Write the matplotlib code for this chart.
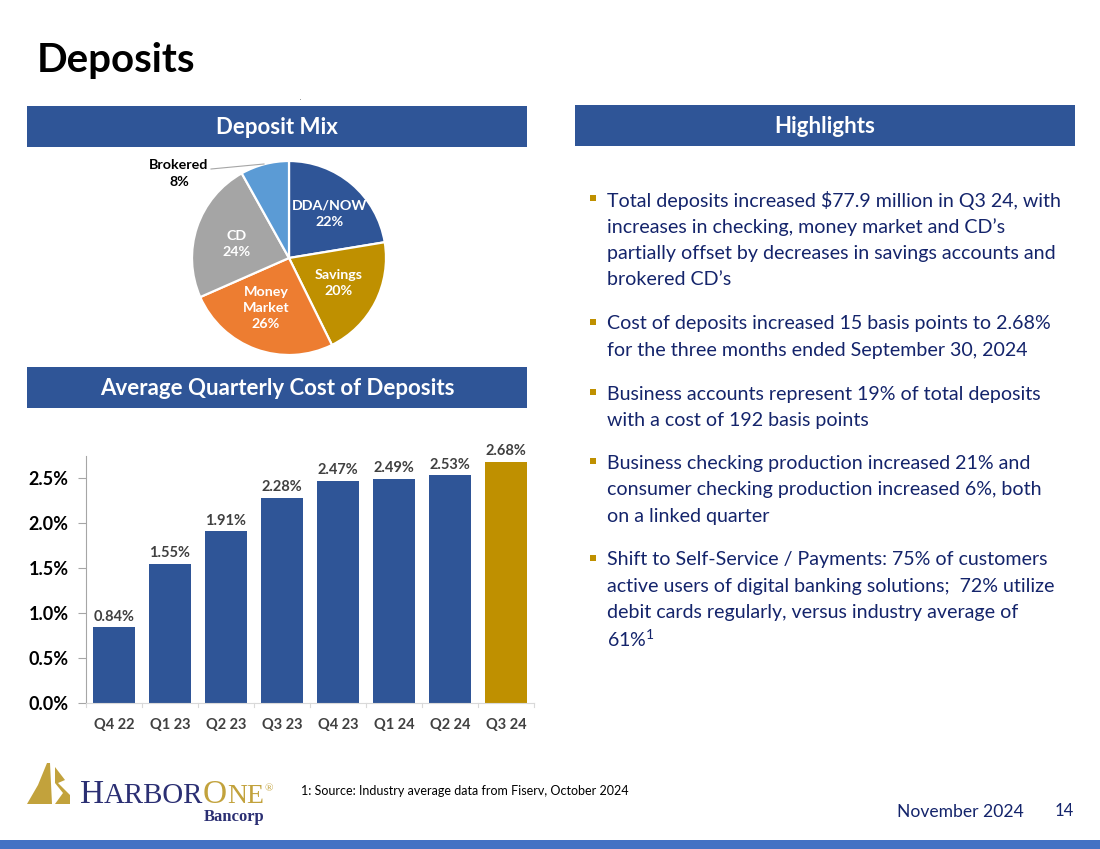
import matplotlib
matplotlib.use("Agg")
import matplotlib.pyplot as plt
from matplotlib.patches import Rectangle, Polygon

plt.rcParams['font.family'] = ['Lato', 'DejaVu Sans']
plt.rcParams['mathtext.fontset'] = 'custom'
plt.rcParams['mathtext.rm'] = 'Lato'
plt.rcParams['mathtext.default'] = 'rm'

mix_labels = ["DDA/NOW\n22%", "Savings\n20%", "Money\nMarket\n26%", "CD\n24%", "Brokered\n8%"]
mix_values = [22.4, 20.3, 25.7, 23.5, 8.1]
mix_colors = ["#2F5597", "#BF9000", "#ED7D31", "#A5A5A5", "#5B9BD5"]

quarters = ["Q4 22", "Q1 23", "Q2 23", "Q3 23", "Q4 23", "Q1 24", "Q2 24", "Q3 24"]
cost = [0.84, 1.55, 1.91, 2.28, 2.47, 2.49, 2.53, 2.68]
y_ticks = [0.0, 0.5, 1.0, 1.5, 2.0, 2.5]

highlights = [
    (["Total deposits increased $77.9 million in Q3 24, with",
      "increases in checking, money market and CD\u2019s",
      "partially offset by decreases in savings accounts and",
      "brokered CD\u2019s"], 200),
    (["Cost of deposits increased 15 basis points to 2.68%",
      "for the three months ended September 30, 2024"], 323.5),
    (["Business accounts represent 19% of total deposits",
      "with a cost of 192 basis points"], 394),
    (["Business checking production increased 21% and",
      "consumer checking production increased 6%, both",
      "on a linked quarter"], 463),
    (["Shift to Self-Service / Payments: 75% of customers",
      "active users of digital banking solutions;  72% utilize",
      "debit cards regularly, versus industry average of",
      "61%$^{1}$"], 559.5),
]

W, H = 1100, 849
fig = plt.figure(figsize=(W / 100, H / 100), dpi=100, facecolor="white")

def px_axes(x0, y0, x1, y1, **kw):
    return fig.add_axes([x0 / W, 1 - y1 / H, (x1 - x0) / W, (y1 - y0) / H], **kw)

bg = px_axes(0, 0, W, H)
bg.set_xlim(0, W)
bg.set_ylim(H, 0)
bg.axis("off")

NAVY = "#2F5597"
TEXT = "#14246B"

bg.text(37, 60, "Deposits", fontsize=29, fontweight="bold", color="black", va="center", ha="left")

for (x0, y0, x1, y1, t) in [(27, 106, 527, 147, "Deposit Mix"),
                            (575, 105, 1075, 146, "Highlights"),
                            (27, 367, 527, 408, "Average Quarterly Cost of Deposits")]:
    bg.add_patch(Rectangle((x0, y0), x1 - x0, y1 - y0, color=NAVY, lw=0))
    bg.text((x0 + x1) / 2, (y0 + y1) / 2 + 1, t, color="white", fontsize=16, fontweight="bold",
            ha="center", va="center")
bg.text(300, 98, ".", fontsize=4, color="black", ha="center", va="center")

bg.add_patch(Rectangle((0, 840), W, 9, color="#4472C4", lw=0))

# highlights
line_h = 26.6
for lines, y in highlights:
    bg.add_patch(Rectangle((590, y - 5), 6, 6, color="#BF9000", lw=0))
    for i, line in enumerate(lines):
        bg.text(607, y + i * line_h, line, color=TEXT, fontsize=14.1, ha="left", va="center")

# footer
bg.text(301, 791, "1: Source: Industry average data from Fiserv, October 2024", fontsize=9,
        color="black", ha="left", va="center")
bg.text(1024, 812, "November 2024", fontsize=12.6, color=TEXT, ha="right", va="center")
bg.text(1064, 811, "14", fontsize=12, color=TEXT, ha="center", va="center")

# logo
gold = "#C2A23C"
bg.add_patch(Polygon([(27, 804), (38, 785), (47, 763), (50, 763), (52, 804)], color=gold, lw=0))
bg.add_patch(Polygon([(55, 767), (65, 780), (58, 783), (70, 795), (70, 804), (55, 804), (63, 793), (55, 783)],
                     color=gold, lw=0))
navy_logo = "#2B2F73"
bg.text(80, 803, "H", family="Liberation Serif", fontsize=24, color=navy_logo, va="baseline")
bg.text(104, 803, "ARBOR", family="Liberation Serif", fontsize=20.8, color=navy_logo, va="baseline")
bg.text(203, 803, "O", family="Liberation Serif", fontsize=24, color=gold, va="baseline")
bg.text(227, 803, "NE", family="Liberation Serif", fontsize=20, color=gold, va="baseline")
bg.text(269, 789, "\u00ae", family="Liberation Serif", fontsize=8, color=gold, ha="center", va="center")
bg.text(264, 817, "Bancorp", family="Liberation Serif", fontsize=12, fontweight="bold", color=navy_logo,
        ha="right", va="center")

# pie
R = 97
cx, cy = 289, 258
pie_ax = px_axes(cx - R, cy - R, cx + R, cy + R)
wedges, _ = pie_ax.pie(mix_values, colors=mix_colors, startangle=90, counterclock=False, radius=1.0,
                       wedgeprops=dict(edgecolor="white", linewidth=1.6))
pie_ax.set_xlim(-1, 1)
pie_ax.set_ylim(-1, 1)

label_pos = [(330, 214), (339, 283), (266, 308), (237, 244)]
for (lx, ly), lab in zip(label_pos, mix_labels[:4]):
    bg.text(lx, ly, lab, color="white", fontsize=10.3, fontweight="bold", ha="center", va="center",
            linespacing=1.45, zorder=10)
bg.text(179, 173, mix_labels[4], color="black", fontsize=10.3, fontweight="bold", ha="center", va="center",
        linespacing=1.5)
bg.plot([211, 264], [169, 164], color="#A6A6A6", lw=0.8, zorder=5)
bg.set_zorder(5)
bg.patch.set_alpha(0)

# bars
ax = px_axes(86, 456, 534, 703)
x = range(len(cost))
colors = [NAVY] * (len(cost) - 1) + ["#BF9000"]
bars = ax.bar(x, cost, width=0.75, color=colors)
ax.set_xlim(-0.5, len(cost) - 0.5)
ax.set_ylim(0, 247 / 90)
ax.set_yticks(y_ticks)
ax.set_yticklabels([f"{v:.1f}%" for v in y_ticks], fontsize=13, fontweight="bold", color="black")
ax.set_xticks(list(x))
ax.set_xticklabels(quarters, fontsize=10.5, fontweight="bold", color="#404040")
ax.tick_params(axis="x", length=0, pad=11)
ax.tick_params(axis="y", length=6, width=0.8, color="#A6A6A6", pad=6.5)
for edge in [i - 0.5 for i in range(len(cost) + 1)]:
    ax.plot([edge, edge], [0, -4 / 90], color="#D9D9D9", lw=0.8, clip_on=False)
for s in ["top", "right"]:
    ax.spines[s].set_visible(False)
ax.spines["left"].set_color("#A6A6A6")
ax.spines["bottom"].set_color("#D9D9D9")
for xi, v in zip(x, cost):
    ax.annotate(f"{v:.2f}%", (xi, v), xytext=(0, 2.5), textcoords="offset points", ha="center", va="bottom",
                fontsize=10.5, fontweight="bold", color="#404040", annotation_clip=False)

fig.savefig("out.png", dpi=100, facecolor="white")
